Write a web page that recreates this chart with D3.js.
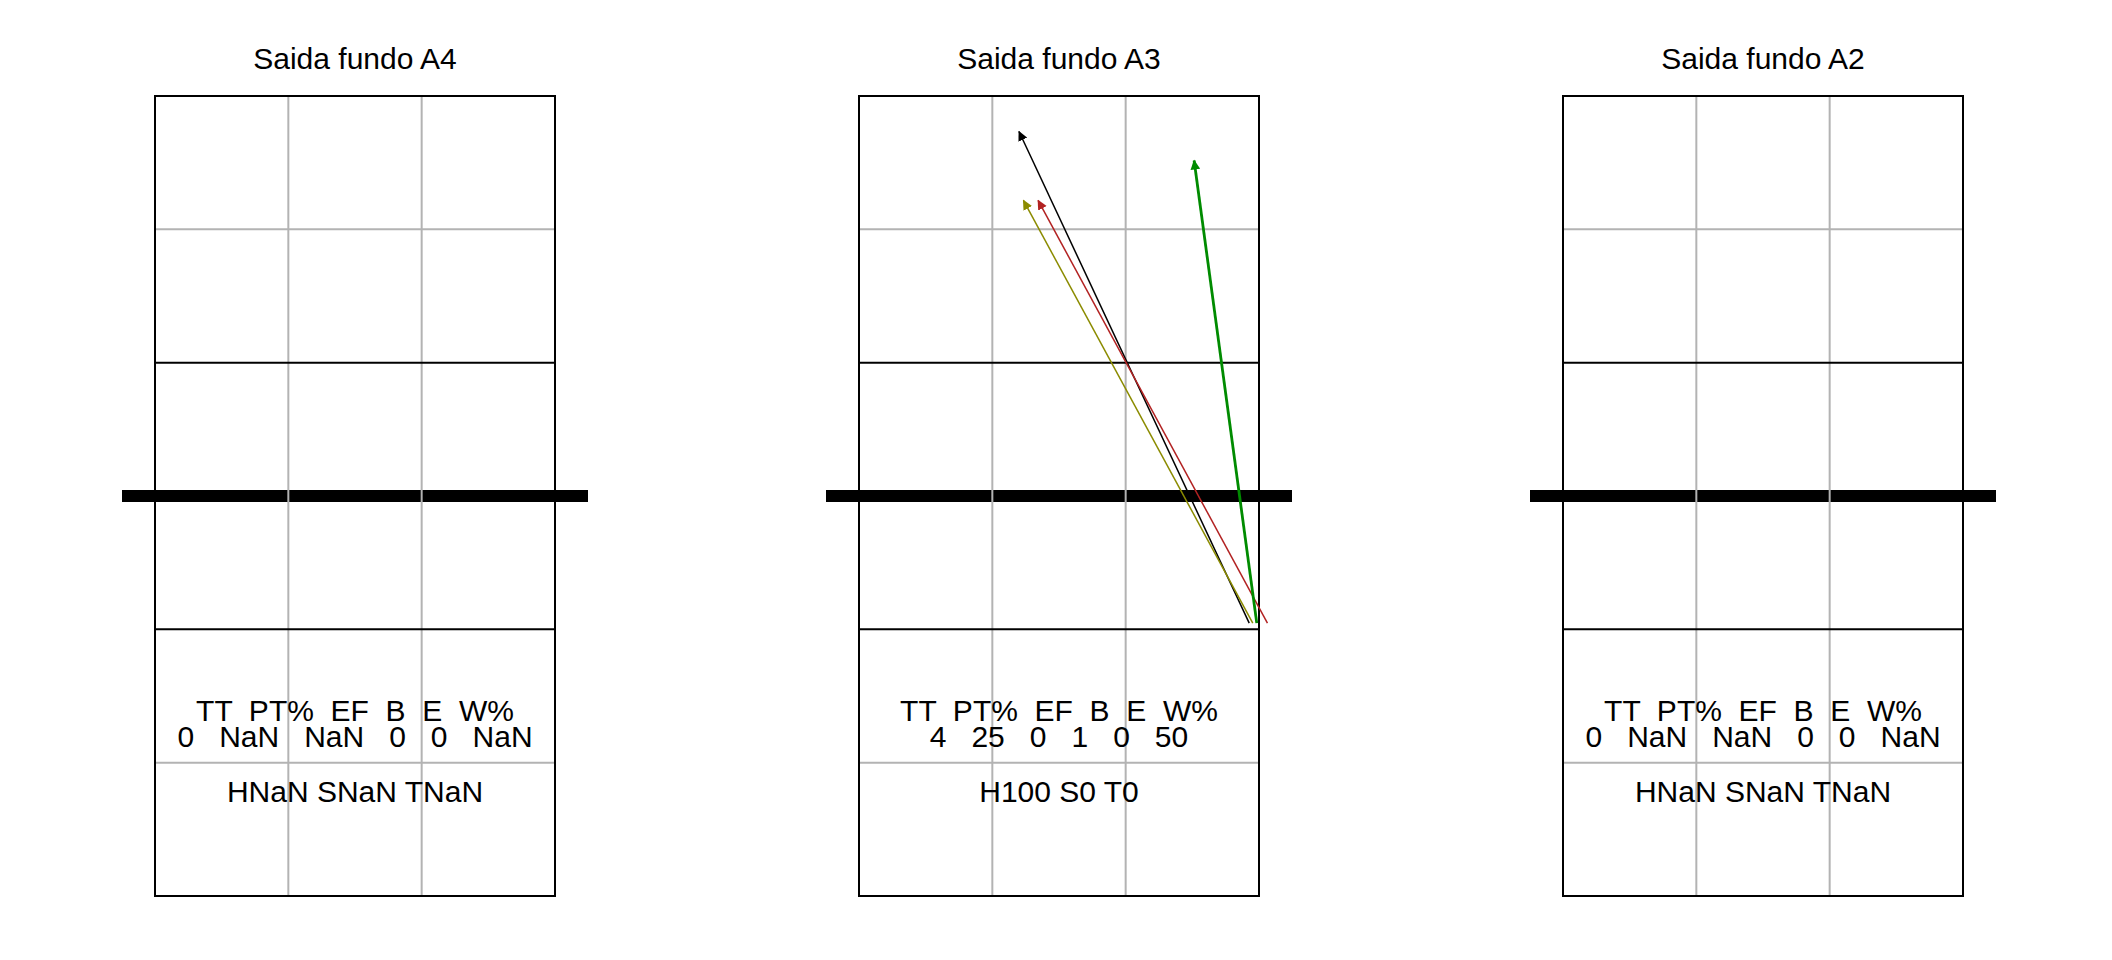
<!DOCTYPE html>
<html>
<head>
<meta charset="utf-8">
<script src="https://cdn.jsdelivr.net/npm/d3@7"></script>
<style>
  html, body { margin: 0; padding: 0; background: #fff; }
  svg text { font-family: "Liberation Sans", Arial, sans-serif; white-space: pre; }
</style>
</head>
<body>
<svg id="chart" width="2112" height="960"></svg>
<script>
// ---------------- data ----------------
const panelTitles = ["Saida fundo A4", "Saida fundo A3", "Saida fundo A2"];
const statLabels = ["TT", "PT%", "EF", "B", "E", "W%"];
const statValues = [
  ["0", "NaN", "NaN", "0", "0", "NaN"],
  ["4", "25", "0", "1", "0", "50"],
  ["0", "NaN", "NaN", "0", "0", "NaN"]
];
const hValues = ["NaN", "100", "NaN"];
const sValues = ["NaN", "0", "NaN"];
const tValues = ["NaN", "0", "NaN"];

// arrows (court metres: x across 0..9, y along 0..18 from the top end line)
const arrowPanel = [1, 1, 1, 1];
const arrowX0 = [8.78, 8.86, 9.19, 8.95];
const arrowY0 = [11.86, 11.86, 11.86, 11.86];
const arrowX1 = [3.60, 3.70, 4.03, 7.54];
const arrowY1 = [0.80, 2.35, 2.35, 1.45];
const arrowColors = ["#000000", "#8B8B00", "#B22222", "#008B00"];
const arrowWidths = [1.5, 1.5, 1.5, 2.8];

// court grid
const gridX = [3, 6];
const gridY = [3, 15];
const attackY = [6, 12];
const netY = 9;

// ---------------- layout ----------------
const svg = d3.select("#chart");
const panelLeft = [155, 859, 1563];
const courtTop = 96;
const courtW = 400, courtH = 800;

const x = d3.scaleLinear().domain([0, 9]).range([0, courtW]);
const y = d3.scaleLinear().domain([0, 18]).range([0, courtH]);

const defs = svg.append("defs");
arrowColors.forEach((c, i) => {
  defs.append("marker")
    .attr("id", "head" + i)
    .attr("markerUnits", "userSpaceOnUse")
    .attr("viewBox", "0 -5 10 10")
    .attr("refX", 9)
    .attr("refY", 0)
    .attr("markerWidth", 10)
    .attr("markerHeight", 10)
    .attr("orient", "auto")
    .append("path")
    .attr("d", "M0,-4.8L10,0L0,4.8Z")
    .attr("fill", c);
});

panelTitles.forEach((title, p) => {
  const g = svg.append("g").attr("transform", `translate(${panelLeft[p]},${courtTop})`);

  // title
  svg.append("text")
    .attr("x", panelLeft[p] + courtW / 2)
    .attr("y", 69)
    .attr("text-anchor", "middle")
    .attr("font-size", 30)
    .text(title);

  // net (thick)
  g.append("line")
    .attr("x1", x(0) - 33).attr("x2", x(9) + 33)
    .attr("y1", y(netY)).attr("y2", y(netY))
    .attr("stroke", "#000").attr("stroke-width", 12);

  // grey grid
  g.selectAll("line.gx").data(gridX).enter().append("line")
    .attr("x1", d => x(d)).attr("x2", d => x(d))
    .attr("y1", y(0)).attr("y2", y(18))
    .attr("stroke", "#B3B3B3").attr("stroke-width", 2);
  g.selectAll("line.gy").data(gridY).enter().append("line")
    .attr("x1", x(0)).attr("x2", x(9))
    .attr("y1", d => y(d)).attr("y2", d => y(d))
    .attr("stroke", "#B3B3B3").attr("stroke-width", 2);

  // attack lines
  g.selectAll("line.att").data(attackY).enter().append("line")
    .attr("x1", x(0)).attr("x2", x(9))
    .attr("y1", d => y(d)).attr("y2", d => y(d))
    .attr("stroke", "#000").attr("stroke-width", 2);

  // border
  g.append("rect")
    .attr("x", x(0)).attr("y", y(0))
    .attr("width", x(9) - x(0)).attr("height", y(18) - y(0))
    .attr("fill", "none").attr("stroke", "#000").attr("stroke-width", 2);

  // stats text
  const cx = x(4.5);
  g.append("text")
    .attr("x", cx).attr("y", 625)
    .attr("text-anchor", "middle").attr("font-size", 30)
    .text(statLabels.join("  "));
  g.append("text")
    .attr("x", cx).attr("y", 651)
    .attr("text-anchor", "middle").attr("font-size", 30)
    .text(statValues[p].join("   "));
  g.append("text")
    .attr("x", cx).attr("y", 706)
    .attr("text-anchor", "middle").attr("font-size", 30)
    .text("H" + hValues[p] + " S" + sValues[p] + " T" + tValues[p]);

  // arrows
  const idx = d3.range(arrowPanel.length).filter(i => arrowPanel[i] === p);
  g.selectAll("line.arrow").data(idx).enter().append("line")
    .attr("x1", i => x(arrowX0[i])).attr("y1", i => y(arrowY0[i]))
    .attr("x2", i => x(arrowX1[i])).attr("y2", i => y(arrowY1[i]))
    .attr("stroke", i => arrowColors[i])
    .attr("stroke-width", i => arrowWidths[i])
    .attr("marker-end", i => `url(#head${i})`);
});
</script>
</body>
</html>
